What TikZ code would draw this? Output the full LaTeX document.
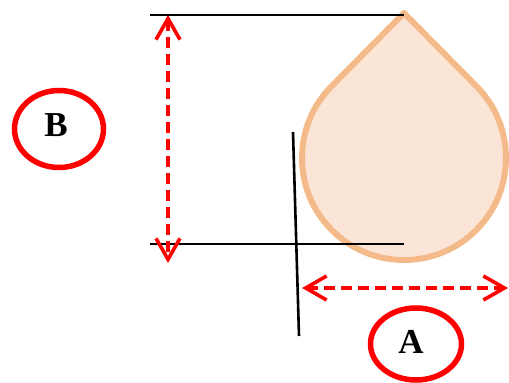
\documentclass[tikz,border=0pt]{standalone}
\usepackage{fontspec}
\setmainfont{Liberation Serif}
\usetikzlibrary{arrows.meta,shapes.geometric}
\definecolor{dropfill}{HTML}{FBE5D6}
\definecolor{dropline}{HTML}{F5BA8A}
\tikzset{
  blackline/.style={line width=2.6pt,black},
  dimarrow/.style={red,line width=3.6pt,dash pattern=on 11pt off 6pt,
    {Straight Barb[length=21pt,width=24pt]}-{Straight Barb[length=21pt,width=24pt]}},
  label/.style={ellipse,draw=red,line width=5.5pt,inner sep=0pt,
    font=\fontsize{35}{40}\selectfont\bfseries}
}
\begin{document}
\begin{tikzpicture}[x=1pt,y=1pt]
\useasboundingbox (0,0) rectangle (509,383);
% drop
\draw[dropline,fill=dropfill,line width=6pt,line join=round]
  (404,370) -- (331.5,296.7) arc[start angle=135.3,end angle=404.7,radius=102] -- cycle;
% coordinates
\coordinate (t1) at (150,368);
\coordinate (t2) at (404,368);
\coordinate (b1) at (150,139);
\coordinate (b2) at (404,139);
\coordinate (v1) at (293,251);
\coordinate (v2) at (299,47);
\coordinate (bt) at (168,368);
\coordinate (bb) at (168,120);
\coordinate (al) at (302,95);
\coordinate (ar) at (508,95);
% black reference lines
\draw[blackline] (t1) -- (t2);
\draw[blackline] (b1) -- (b2);
\draw[blackline] (v1) -- (v2);
% dimension arrows
\draw[dimarrow] (bt) -- (bb);
\draw[dimarrow] (al) -- (ar);
% labels
\node[label,minimum width=89pt,minimum height=77pt] (B) at (59,254) {};
\node[font=\fontsize{35}{40}\selectfont\bfseries] (Bt) at (56,258) {B};
\node[label,minimum width=91pt,minimum height=72pt] (A) at (416,39) {};
\node[font=\fontsize{35}{40}\selectfont\bfseries] (At) at (411,41) {A};
\end{tikzpicture}
\end{document}
